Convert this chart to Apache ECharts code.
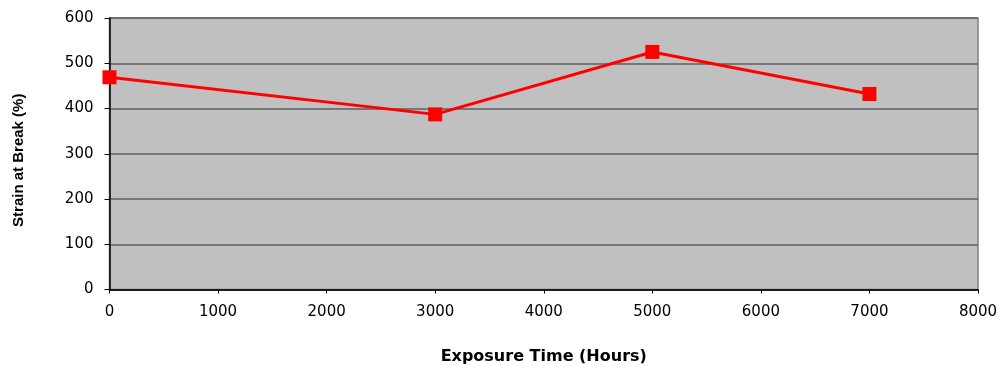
<!DOCTYPE html>
<html>
<head>
<meta charset="utf-8">
<script src="https://cdn.jsdelivr.net/npm/echarts@6/dist/echarts.min.js"></script>
<style>
  html, body { margin: 0; padding: 0; background: #fff; }
  #chart { width: 1005px; height: 366px; }
</style>
</head>
<body>
<div id="chart"></div>
<script>
// Exposure time in hours and measured strain at break
const exposureHours = [0, 3000, 5000, 7000];
const strainAtBreak = [469, 387, 525, 432];
const xTicks = { min: 0, max: 8000, interval: 1000 };
const yTicks = { min: 0, max: 600, interval: 100 };

const chart = echarts.init(document.getElementById('chart'), null, { renderer: 'canvas' });
const tickFont = '"DejaVu Sans", sans-serif';
const titleFont = '"DejaVu Sans", sans-serif';
const yTitleFont = '"Liberation Sans", Arial, sans-serif';

chart.setOption({
  animation: false,
  grid: {
    left: 109.5, right: 27, top: 18, bottom: 76.5,
    outerBoundsMode: 'none',
    containLabel: false,
    show: true,
    backgroundColor: '#c0c0c0',
    borderColor: '#808080',
    borderWidth: 1.5
  },
  xAxis: {
    type: 'value',
    min: xTicks.min, max: xTicks.max, interval: xTicks.interval,
    name: 'Exposure Time (Hours)',
    nameLocation: 'middle',
    nameGap: 59,
    nameTextStyle: { fontFamily: titleFont, fontWeight: 'bold', fontSize: 16, color: '#000' },
    axisLine: { show: true, onZero: false, lineStyle: { color: '#000', width: 1.5 } },
    axisTick: { show: true, length: 4, lineStyle: { color: '#000' } },
    axisLabel: { fontFamily: tickFont, fontSize: 15, color: '#000', margin: 15,
                 formatter: v => String(v) },
    splitLine: { show: false }
  },
  yAxis: {
    type: 'value',
    min: yTicks.min, max: yTicks.max, interval: yTicks.interval,
    name: 'Strain at Break (%)',
    nameLocation: 'middle',
    nameGap: 83,
    nameTextStyle: { fontFamily: yTitleFont, fontWeight: 'bold', fontSize: 15, color: '#000',
                     padding: [0, 13, 0, 0] },
    axisLine: { show: true, lineStyle: { color: '#000', width: 1.5 } },
    axisTick: { show: true, length: 5, lineStyle: { color: '#000' } },
    axisLabel: { fontFamily: tickFont, fontSize: 15, color: '#000', margin: 16,
                 formatter: v => String(v) },
    splitLine: { show: true, lineStyle: { color: '#5f5f5f', width: 1.5 } }
  },
  series: [{
    type: 'line',
    data: exposureHours.map((h, i) => [h, strainAtBreak[i]]),
    lineStyle: { color: '#ff0000', width: 3 },
    itemStyle: { color: '#ff0000' },
    symbol: 'rect',
    symbolSize: 14,
    clip: false
  }]
});
</script>
</body>
</html>
